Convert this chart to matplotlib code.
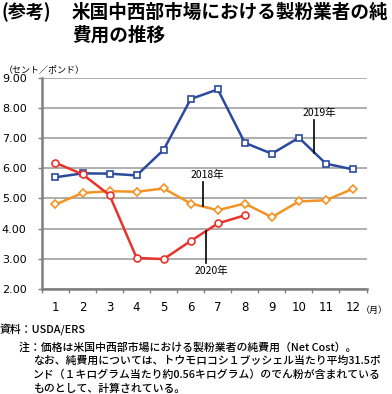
import numpy as np
import matplotlib
matplotlib.use('Agg')
import matplotlib.pyplot as plt

plt.rcParams['font.family'] = ['Noto Sans CJK JP', 'DejaVu Sans']

months = [1, 2, 3, 4, 5, 6, 7, 8, 9, 10, 11, 12]
month_labels = ['1', '2', '3', '4', '5', '6', '7', '8', '9', '10', '11', '12']
y2018 = [4.80, 5.18, 5.24, 5.22, 5.33, 4.83, 4.61, 4.83, 4.38, 4.90, 4.94, 5.32]
y2019 = [5.70, 5.83, 5.82, 5.76, 6.61, 8.29, 8.61, 6.84, 6.48, 7.01, 6.15, 5.96]
y2020 = [6.18, 5.80, 5.11, 3.03, 2.99, 3.59, 4.17, 4.44]
yticks = [2, 3, 4, 5, 6, 7, 8, 9]

c2018 = '#F39325'
c2019 = '#2B4A9E'
c2020 = '#E8332A'

fig = plt.figure(figsize=(3.92, 3.94), dpi=100)
ax = fig.add_axes([0.107, 0.2665, 0.828, 0.5365])

ax.plot(months, y2019, color=c2019, lw=1.8, marker='s', ms=4.5, mfc='white', mec=c2019, mew=1.2, zorder=3)
ax.plot(months, y2018, color=c2018, lw=1.8, marker='D', ms=4.2, mfc='white', mec=c2018, mew=1.2, zorder=3)
ax.plot(months[:len(y2020)], y2020, color=c2020, lw=1.8, marker='o', ms=5, mfc='white', mec=c2020, mew=1.2, zorder=4)

ax.set_xlim(0.5, 12.5)
ax.set_ylim(2, 9)
ax.set_yticks(yticks)
ax.set_yticklabels(['%.2f' % v for v in yticks], fontsize=8, family=['DejaVu Sans'])
ax.grid(axis='y', color='#A8A8A8', lw=1.3)
ax.set_axisbelow(True)

ax.set_xticks(np.arange(0.5, 13, 1))
ax.set_xticklabels([])
ax.set_xticks(months, minor=True)
ax.set_xticklabels(month_labels, minor=True, fontsize=8.5, family=['DejaVu Sans'])
ax.tick_params(axis='x', which='major', length=3, width=1, color='#808080', direction='out')
ax.tick_params(axis='x', which='minor', length=0, pad=9)
ax.tick_params(axis='y', length=3, width=1, color='#808080', pad=8)

for s in ['top', 'right']:
    ax.spines[s].set_visible(False)
for s in ['left', 'bottom']:
    ax.spines[s].set_color('#808080')
    ax.spines[s].set_linewidth(1.8)

# series labels with leader lines
ax.plot([10.57, 10.57], [7.59, 6.51], color='black', lw=1.2, zorder=5)
ax.text(10.75, 7.66, '2019年', fontsize=7.5, ha='center', va='bottom')
ax.plot([6.47, 6.47], [5.54, 4.75], color='black', lw=1.2, zorder=5)
ax.text(6.6, 5.60, '2018年', fontsize=7.5, ha='center', va='bottom')
ax.plot([6.56, 6.56], [3.93, 2.87], color='black', lw=1.2, zorder=5)
ax.text(6.76, 2.76, '2020年', fontsize=7.5, ha='center', va='top')

fig.text(0.005, 0.97, '(参考)', fontsize=13, fontweight='bold', va='center', ha='left')
fig.text(0.183, 0.97, '米国中西部市場における製粉業者の純', fontsize=13.4, fontweight='bold', va='center', ha='left')
fig.text(0.183, 0.91, '費用の推移', fontsize=13.4, fontweight='bold', va='center', ha='left')
fig.text(0.01, 0.822, '（セント／ポンド）', fontsize=6.5, va='center', ha='left')
fig.text(0.92, 0.212, '（月）', fontsize=6.5, va='center', ha='left')

fw = 'medium'
fig.text(0.0, 0.162, '資料：USDA/ERS', fontsize=7.8, fontweight=fw, va='center', ha='left')
fig.text(0.048, 0.119, '注：価格は米国中西部市場における製粉業者の純費用（Net Cost）。', fontsize=7.8, fontweight=fw, va='center', ha='left')
fig.text(0.084, 0.084, 'なお、純費用については、トウモロコシ１ブッシェル当たり平均31.5ポ', fontsize=7.8, fontweight=fw, va='center', ha='left')
fig.text(0.084, 0.048, 'ンド（１キログラム当たり約0.56キログラム）のでん粉が含まれている', fontsize=7.8, fontweight=fw, va='center', ha='left')
fig.text(0.084, 0.013, 'ものとして、計算されている。', fontsize=7.8, fontweight=fw, va='center', ha='left')

fig.savefig('out.png', dpi=100)
